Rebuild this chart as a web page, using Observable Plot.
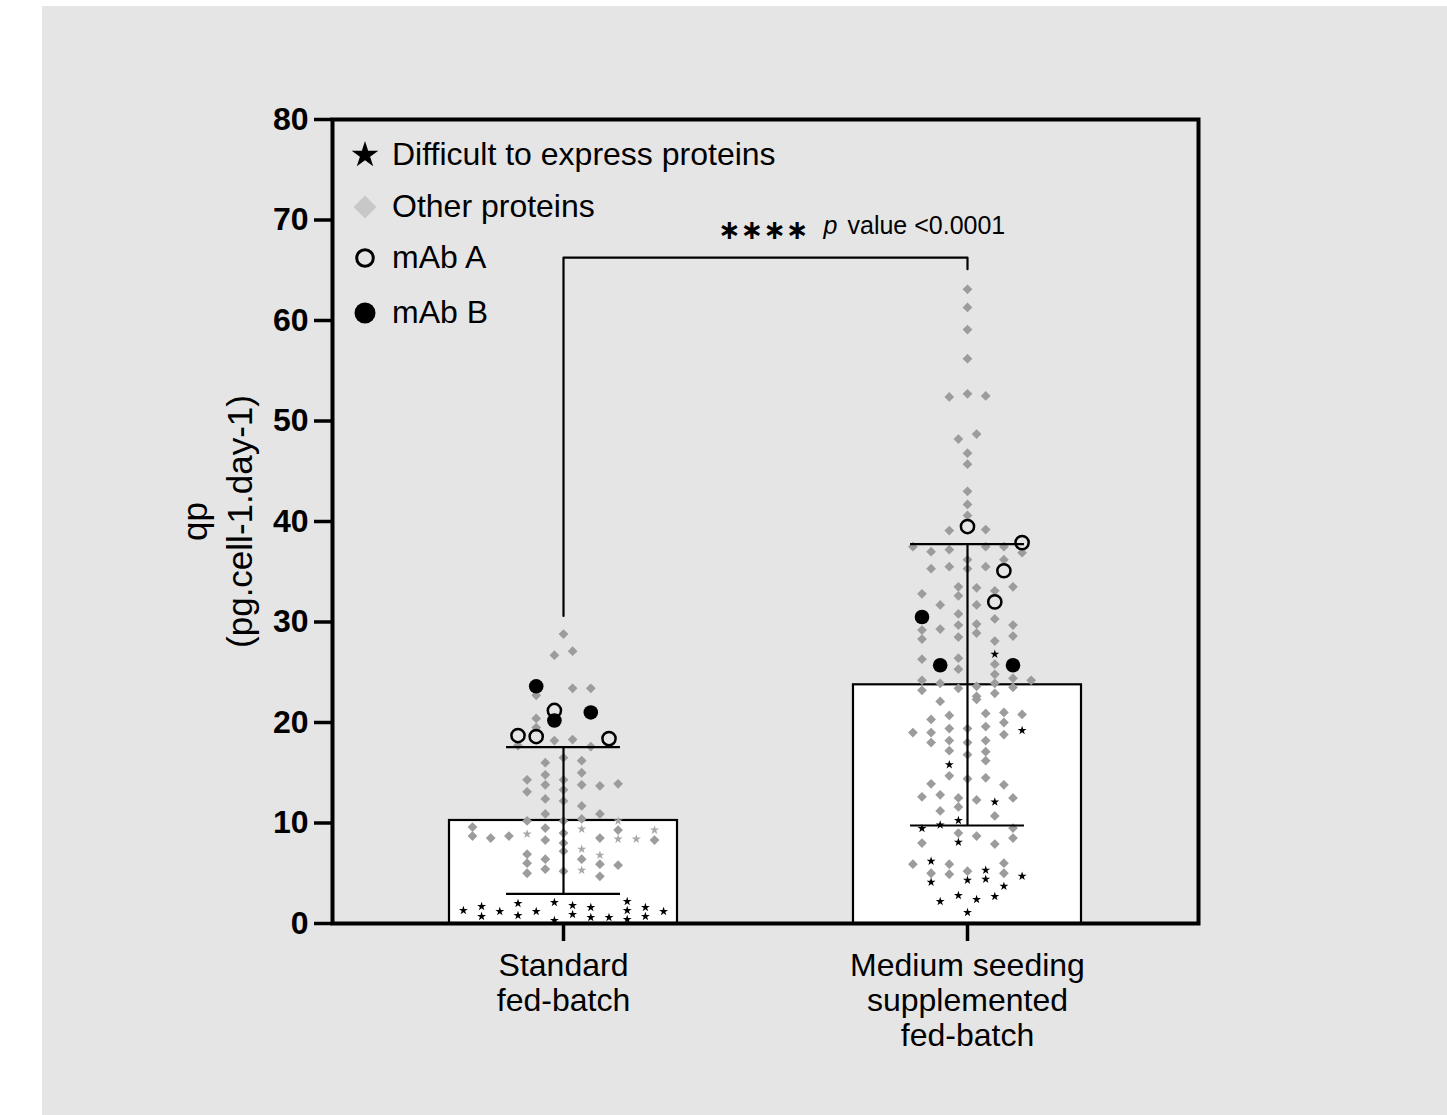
<!DOCTYPE html>
<html><head><meta charset="utf-8">
<script src="https://cdn.jsdelivr.net/npm/d3@7"></script>
<script src="https://cdn.jsdelivr.net/npm/@observablehq/plot@0.6"></script>
<style>
html,body{margin:0;padding:0;background:#fff;}
#panel{position:absolute;left:42px;top:6px;width:1405px;height:1109px;background:#e5e5e5;font-family:"Liberation Sans",Arial,sans-serif;overflow:hidden;}
#panel svg{position:absolute;left:0;top:0;}
</style></head><body><div id="panel"></div>
<script>
// ---------- data ----------
const groupNames = ["Standard\nfed-batch", "Medium seeding\nsupplemented\nfed-batch"];
const groupPos = [1, 2];
const barMean = [10.25, 23.75];
const barSD = [7.3, 14.0];
const yTicks = [0, 10, 20, 30, 40, 50, 60, 70, 80];
const yTitle = ["qp", "(pg.cell-1.day-1)"];
const legendLabels = ["Difficult to express proteins", "Other proteins", "mAb A", "mAb B"];

// [qp, jitter column]
const stdOther = [[28.8,0],[26.7,-0.5],[27.1,0.5],[22.7,-1.5],[23.4,0.5],[23.4,1.5],[20.4,-1.5],[19.5,-1.5],
 [18.2,-0.5],[18.3,0.5],[17.6,1.5],[17.7,-2.5],[16.5,0],[16.0,-1],[16.2,1],[14.3,-2],[14.8,-1],[15.0,1],
 [13.8,-1],[13.8,1],[13.7,2],[13.9,3],[13.1,-2],[12.4,-1],[12.2,0],[11.7,1],[10.9,2],[10.9,-1],[10.4,1],
 [10.2,-2],[10.2,0],[9.6,-5],[8.7,-5],[8.5,-4],[8.7,-3],[9.5,-1],[8.3,-1],[9.0,0],[8.0,0],[7.2,0],[8.5,2],
 [9.3,3],[8.3,5],[6.9,-2],[6.0,-2],[5.0,-2],[6.4,-1],[5.4,-1],[5.2,0],[6.4,1],[5.9,2],[4.7,2],[5.8,3],
 [14.3,0],[13.3,0]];
const stdDifficultGray = [[8.9,-2],[9.4,1],[7.4,1],[5.3,1],[6.8,2],[10.2,3],[8.4,3],[8.4,4],[9.3,5]];
const stdDifficult = [[1.3,-5.5],[1.7,-4.5],[0.7,-4.5],[1.2,-3.5],[2.0,-2.5],[0.8,-2.5],[1.2,-1.5],[2.1,-0.5],
 [0.3,-0.5],[1.8,0.5],[0.9,0.5],[1.6,1.5],[0.6,1.5],[0.6,2.5],[2.2,3.5],[1.3,3.5],[0.4,3.5],[1.6,4.5],
 [0.7,4.5],[1.2,5.5]];
const stdMabA = [[18.7,-2.5],[18.6,-1.5],[21.2,-0.5],[18.4,2.5]];
const stdMabB = [[23.6,-1.5],[20.2,-0.5],[21.0,1.5]];

const medOther = [[63.1,0],[61.3,0],[59.1,0],[56.2,0],[52.4,-1],[52.7,0],[52.5,1],[48.2,-0.5],[48.7,0.5],
 [46.8,0],[45.7,0],[43.0,0],[41.7,0],[40.6,0],[39.1,-1],[39.2,1],[37.5,-3],[37.0,-2],[37.2,-1],[36.2,0],
 [37.5,1],[37.5,2],[36.2,2],[36.9,3],[35.3,-2],[35.5,-1],[35.3,0],[35.5,1],[33.5,2.5],[33.5,-0.5],[33.4,0.5],
 [32.8,-2.5],[32.6,-0.5],[33.1,1.5],[31.7,-1.5],[31.7,0.5],[30.8,-0.5],[30.3,1.5],[29.2,-2.5],[29.3,-1.5],
 [29.7,-0.5],[29.8,0.5],[28.9,0.5],[29.7,2.5],[28.6,2.5],[28.3,-2.5],[28.5,-0.5],[28.1,1.5],[26.3,-2.5],
 [26.4,-0.5],[25.3,-0.5],[25.8,1.5],[24.8,1.5],[24.2,-2.5],[23.2,-2.5],[23.9,-1.5],[23.4,-0.5],[23.6,0.5],
 [22.6,0.5],[23.9,1.5],[22.9,1.5],[24.4,2.5],[23.5,2.5],[24.2,3.5],[22.1,-1.5],[20.3,-2],[20.7,-1],[20.9,1],
 [21.0,2],[20.8,3],[22.3,0.5],[20.0,2],[19.0,-3],[19.0,-2],[19.4,-1],[19.4,0],[19.6,1],[18.8,2],[18.0,-2],
 [18.2,-1],[17.2,-1],[18.0,0],[16.8,0],[18.2,1],[17.1,1],[16.2,1],[14.7,-1],[14.4,0],[14.5,1],[13.9,-2],
 [13.8,2],[12.6,-2.5],[12.8,-1.5],[12.5,-0.5],[12.3,0.5],[12.5,2.5],[11.2,-1.5],[11.6,-0.5],[10.7,1.5],
 [9.0,-0.5],[8.7,0.5],[9.5,2.5],[8.5,2.5],[8.0,-2.5],[7.9,1.5],[5.9,-3],[5.9,-1],[6.0,2],[5.0,-2],[4.9,-1],
 [5.2,0],[5.0,2]];
const medDifficult = [[26.8,1.5],[19.2,3],[15.8,-1],[12.1,1.5],[9.45,-2.5],[9.8,-1.5],[10.25,-0.5],[8.1,-0.5],
 [6.2,-2],[5.3,1],[4.7,3],[4.1,-2],[4.3,0],[4.4,1],[3.7,2],[2.8,-0.5],[2.7,1.5],[2.2,-1.5],[2.4,0.5],[1.1,0]];
const medMabA = [[39.5,0],[37.9,3],[35.1,2],[32.0,1.5]];
const medMabB = [[30.5,-2.5],[25.7,-1.5],[25.7,2.5]];

// significance bracket: [group, qp]
const sigBracket = [[1, 30.6], [1, 66.25], [2, 66.25], [2, 65.1]];
const sigStars = "∗∗∗∗";
const sigP = "p";
const sigText = "value <0.0001";

// ---------- build ----------
const colW = 0.04505, barHalf = 0.2822, capHalf = 0.141;
const pts = (arr, g) => arr.map(([qp, col]) => ({x: groupPos[g] + col * colW, y: qp}));
const other = [...pts(stdOther, 0), ...pts(medOther, 1)];
const diffGray = pts(stdDifficultGray, 0);
const diff = [...pts(stdDifficult, 0), ...pts(medDifficult, 1)];
const mabA = [...pts(stdMabA, 0), ...pts(medMabA, 1)];
const mabB = [...pts(stdMabB, 0), ...pts(medMabB, 1)];
const bars = groupPos.map((p, i) => ({p, mean: barMean[i], lo: barMean[i] - barSD[i], hi: barMean[i] + barSD[i]}));
const bracket = sigBracket.map(([g, y]) => ({x: g, y}));
const sigMid = [{x: (groupPos[0] + groupPos[1]) / 2, y: sigBracket[1][1]}];

const W = 1405, H = 1109;
const chart = Plot.plot({
  width: W, height: H,
  marginLeft: 290, marginRight: 249, marginTop: 113, marginBottom: 192,
  style: {background: "transparent", fontFamily: '"Liberation Sans", Arial, sans-serif', color: "#000", overflow: "visible"},
  x: {domain: [0.4282, 2.5718]},
  y: {domain: [0, 80]},
  marks: [
    Plot.rect(bars, {x1: d => d.p - barHalf, x2: d => d.p + barHalf, y1: 0, y2: "mean", fill: "white", stroke: "black", strokeWidth: 2.2}),
    Plot.dot(other, {x: "x", y: "y", symbol: "diamond2", r: 4.4, fill: "#9c9c9e", stroke: "none"}),
    Plot.dot(diffGray, {x: "x", y: "y", symbol: "star", r: 2.9, fill: "#a9a9a9", stroke: "none"}),
    Plot.dot(diff, {x: "x", y: "y", symbol: "star", r: 2.8, fill: "#000", stroke: "none"}),
    Plot.ruleX(bars, {x: "p", y1: "lo", y2: "hi", stroke: "black", strokeWidth: 2.2}),
    Plot.ruleY(bars, {y: "hi", x1: d => d.p - capHalf, x2: d => d.p + capHalf, stroke: "black", strokeWidth: 2.2}),
    Plot.ruleY(bars, {y: "lo", x1: d => d.p - capHalf, x2: d => d.p + capHalf, stroke: "black", strokeWidth: 2.2}),
    Plot.dot(mabA, {x: "x", y: "y", r: 6.6, fill: "none", stroke: "#000", strokeWidth: 2.5}),
    Plot.dot(mabB, {x: "x", y: "y", r: 7.3, fill: "#000", stroke: "none"}),
    Plot.line(bracket, {x: "x", y: "y", stroke: "#000", strokeWidth: 2.2}),
    Plot.text(sigMid, {x: "x", y: "y", text: () => sigStars, textAnchor: "end", dx: 43, dy: -27, fontSize: 27, fontWeight: "bold", fontFamily: "DejaVu Sans", fill: "#000"}),
    Plot.text(sigMid, {x: "x", y: "y", text: () => sigP, textAnchor: "start", lineAnchor: "bottom", dx: 58, dy: -24, fontSize: 25, fontStyle: "italic", fill: "#000"}),
    Plot.text(sigMid, {x: "x", y: "y", text: () => sigText, textAnchor: "start", lineAnchor: "bottom", dx: 82, dy: -24, fontSize: 25, fill: "#000"}),
    Plot.frame({stroke: "#000", strokeWidth: 4}),
    Plot.axisY({ticks: yTicks, tickSize: 18, tickPadding: 6, fontSize: 32, fontWeight: "bold", strokeWidth: 3.5, label: null}),
    Plot.axisX({ticks: groupPos, tickFormat: d => groupNames[d - 1], tickSize: 18, tickPadding: 9, fontSize: 32, lineHeight: 1.1, strokeWidth: 3.5, label: null}),
    Plot.text([yTitle[0]], {frameAnchor: "left", textAnchor: "middle", rotate: -90, dx: -137, fontSize: 35, fill: "#000"}),
    Plot.text([yTitle[1]], {frameAnchor: "left", textAnchor: "middle", rotate: -90, dx: -92, fontSize: 35, fill: "#000"})
  ]
});
const panel = document.getElementById("panel");
panel.appendChild(chart);

// ---------- legend (overlay) ----------
const leg = d3.select(panel).append("svg").attr("width", W).attr("height", H)
  .style("pointer-events", "none");
const legX = 323, legTextX = 350;
const rowsY = [149, 201, 252, 307];
const baseOff = 10;
leg.append("path").attr("transform", `translate(${legX},${rowsY[0]})`)
  .attr("d", d3.symbol(d3.symbolStar, 220)()).attr("fill", "#000");
leg.append("path").attr("transform", `translate(${legX},${rowsY[1]})`)
  .attr("d", d3.symbol(d3.symbolDiamond2, 337)()).attr("fill", "#c8c8c8");
leg.append("circle").attr("cx", legX).attr("cy", rowsY[2]).attr("r", 8.3)
  .attr("fill", "none").attr("stroke", "#000").attr("stroke-width", 3);
leg.append("circle").attr("cx", legX).attr("cy", rowsY[3]).attr("r", 10.5).attr("fill", "#000");
legendLabels.forEach((t, i) => {
  leg.append("text").attr("x", legTextX).attr("y", rowsY[i] + baseOff)
    .attr("font-size", 32).attr("font-family", '"Liberation Sans", Arial, sans-serif')
    .attr("fill", "#000").text(t);
});
</script>
</body></html>
